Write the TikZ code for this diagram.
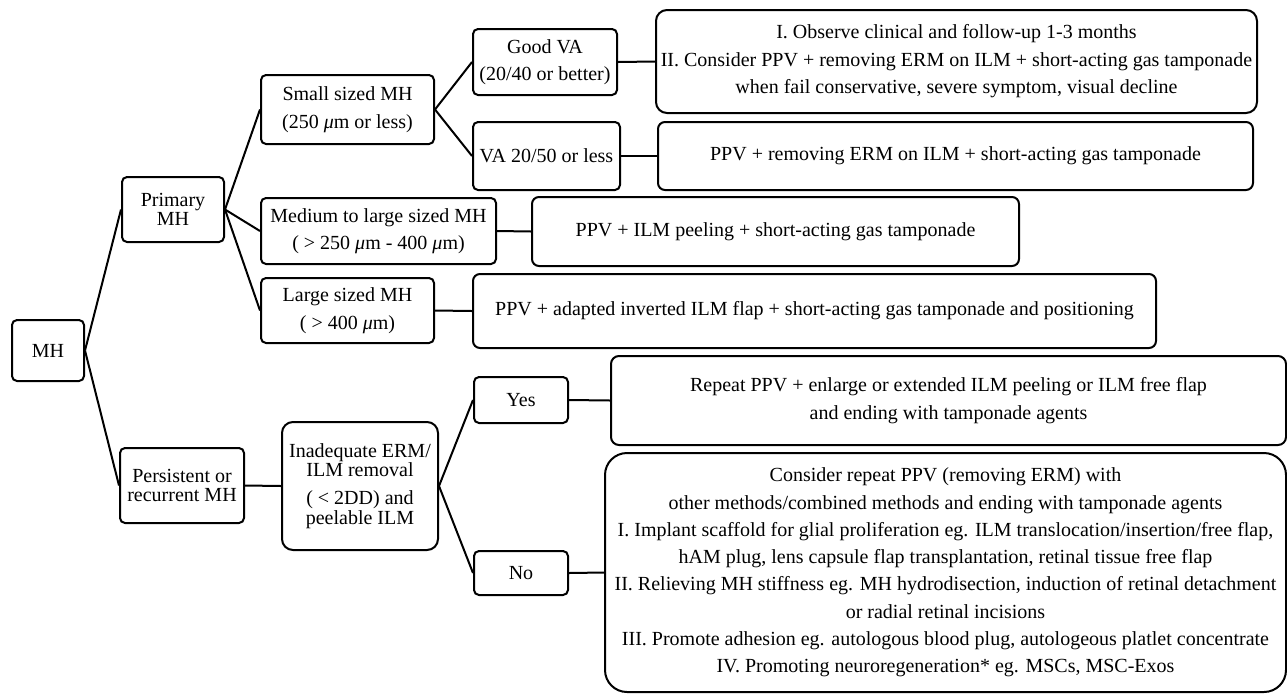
\documentclass[tikz,border=0pt]{standalone}
\usepackage{fontspec}
\setmainfont{Liberation Serif}
\newcommand{\um}{\textit{μ}m}
\begin{document}
\begin{tikzpicture}[x=1pt,y=-1pt,
  box/.style={draw, line width=2pt, rounded corners=5pt, align=center, inner sep=0pt,
    font=\fontsize{20}{27.5}\selectfont},
  tight/.style={font=\fontsize{20}{19.5}\selectfont},
  conn/.style={line width=2pt}]
\useasboundingbox (0,0) rectangle (1287,694);
% level 0
\node[box, minimum width=72pt, minimum height=61pt] (mh) at (48,350.5) {MH};
% level 1
\node[box, tight, minimum width=102pt, minimum height=65pt] (prim) at (173,209.5) {Primary\\MH};
\node[box, tight, minimum width=124pt, minimum height=75pt] (pers) at (182,485.5) {Persistent or\\recurrent MH};
% level 2
\node[box, minimum width=173pt, minimum height=69pt] (small) at (347.5,109.5) {Small sized MH\\(250 \um{} or less)};
\node[box, minimum width=235pt, minimum height=66pt] (med) at (378.5,231) {Medium to large sized MH\\( > 250 \um{} - 400 \um)};
\node[box, minimum width=173pt, minimum height=65pt] (large) at (347.5,310.5) {Large sized MH\\( > 400 \um)};
\node[box, tight, rounded corners=11pt, minimum width=156pt, minimum height=128pt] (inad) at (360,486) {Inadequate ERM/\\ILM removal\\[8.5pt]( < 2DD) and\\peelable ILM};
% level 3
\node[box, minimum width=144pt, minimum height=66pt] (good) at (545,62) {Good VA\\(20/40 or better)};
\node[box, minimum width=147pt, minimum height=68pt] (va) at (546.5,156) {VA 20/50 or less};
\node[box, minimum width=94pt, minimum height=46pt] (yes) at (521,400) {Yes};
\node[box, minimum width=94pt, minimum height=44pt] (no) at (521,573) {No};
% results
\node[box, rounded corners=11pt, minimum width=601pt, minimum height=103pt] (r1) at (956.5,61.5)
  {I. Observe clinical and follow-up 1-3 months\\II. Consider PPV + removing ERM on ILM + short-acting gas tamponade\\when fail conservative, severe symptom, visual decline};
\node[box, rounded corners=7pt, minimum width=595pt, minimum height=68pt] (r2) at (955.5,156)
  {PPV + removing ERM on ILM + short-acting gas tamponade};
\node[box, rounded corners=7pt, minimum width=487pt, minimum height=69pt] (r3) at (775.5,231.5)
  {PPV + ILM peeling + short-acting gas tamponade};
\node[box, rounded corners=7pt, minimum width=683pt, minimum height=74pt] (r4) at (814.5,311)
  {PPV + adapted inverted ILM flap + short-acting gas tamponade and positioning};
\node[box, rounded corners=8pt, minimum width=675pt, minimum height=89pt] (r5) at (948.5,400.5)
  {Repeat PPV + enlarge or extended ILM peeling or ILM free flap\\and ending with tamponade agents};
\node[box, rounded corners=22pt, minimum width=681pt, minimum height=239pt,
  font=\fontsize{20}{27.3}\selectfont] (r6) at (945.5,572.5)
  {Consider repeat PPV (removing ERM) with\\
   other methods/combined methods and ending with tamponade agents\\
   I. Implant scaffold for glial proliferation eg. ILM translocation/insertion/free flap,\\
   hAM plug, lens capsule flap transplantation, retinal tissue free flap\\
   II. Relieving MH stiffness eg. MH hydrodisection, induction of retinal detachment\\
   or radial retinal incisions\\
   III. Promote adhesion eg. autologous blood plug, autologeous platlet concentrate\\
   IV. Promoting neuroregeneration* eg. MSCs, MSC-Exos};
% connectors
\draw[conn] (mh.east) -- (prim.west);
\draw[conn] (mh.east) -- (pers.west);
\draw[conn] (prim.east) -- (small.west);
\draw[conn] (prim.east) -- (med.west);
\draw[conn] (prim.east) -- (large.west);
\draw[conn] (small.east) -- (good.west);
\draw[conn] (small.east) -- (va.west);
\draw[conn] (good.east) -- (r1.west);
\draw[conn] (va.east) -- (r2.west);
\draw[conn] (med.east) -- (r3.west);
\draw[conn] (large.east) -- (r4.west);
\draw[conn] (pers.east) -- (inad.west);
\draw[conn] (inad.east) -- (yes.west);
\draw[conn] (inad.east) -- (no.west);
\draw[conn] (yes.east) -- (r5.west);
\draw[conn] (no.east) -- (r6.west);
\end{tikzpicture}
\end{document}
